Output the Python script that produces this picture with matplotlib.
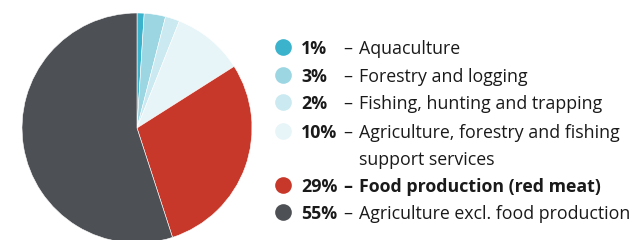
import matplotlib.pyplot as plt

# data
shares = [1, 3, 2, 10, 29, 55]
pct_labels = ["1%", "3%", "2%", "10%", "29%", "55%"]
descriptions = [
    "Aquaculture",
    "Forestry and logging",
    "Fishing, hunting and trapping",
    "Agriculture, forestry and fishing\nsupport services",
    "Food production (red meat)",
    "Agriculture excl. food production",
]
colors = ["#3bb3cc", "#9dd6e3", "#cbe9f0", "#e8f5f8", "#c8382a", "#4d5055"]

W, H = 644, 240
fig = plt.figure(figsize=(W / 100, H / 100), dpi=100)
plt.rcParams['font.family'] = ['Open Sans', 'DejaVu Sans']

# pie, centre (137,128) px, radius 115 px
cx, cy, r = 137, 128, 115
ax = fig.add_axes([(cx - r) / W, (H - cy - r) / H, 2 * r / W, 2 * r / H])
ax.pie(shares, colors=colors, startangle=90, counterclock=False,
       wedgeprops=dict(edgecolor="white", linewidth=0.4))
ax.set_xlim(-1, 1)
ax.set_ylim(-1, 1)
ax.axis("off")

# legend drawn in pixel coordinates
lg = fig.add_axes([0, 0, 1, 1], facecolor="none")
lg.set_xlim(0, W)
lg.set_ylim(H, 0)
lg.axis("off")

fs = 12.8
txt = "#1a1a1a"
rows_y = [47, 75, 102, 131, 185, 212]
for i, (p, d, c, y) in enumerate(zip(pct_labels, descriptions, colors, rows_y)):
    w = "bold" if i == 4 else "normal"
    lg.plot(283, y, marker="o", markersize=12, color=c, markeredgewidth=0)
    lg.text(301, y, p, fontsize=fs, fontweight="bold", color=txt,
            va="center_baseline", ha="left")
    lg.text(343, y, "–", fontsize=fs, fontweight=w, color=txt,
            va="center_baseline", ha="left")
    for k, line in enumerate(d.split("\n")):
        lg.text(359, y + 27 * k, line, fontsize=fs, fontweight=w, color=txt,
                va="center_baseline", ha="left")

fig.savefig("out.png", dpi=100)
